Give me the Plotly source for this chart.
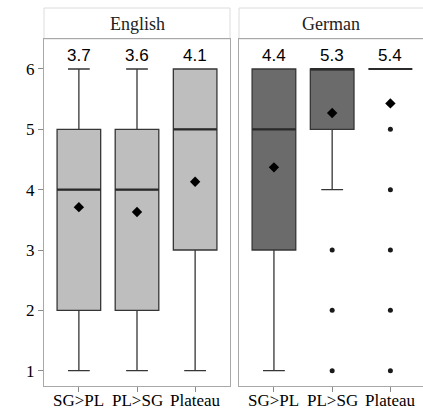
import plotly.graph_objects as go

categories = ["SG>PL", "PL>SG", "Plateau"]
panels = ["English", "German"]

eng_q1 = [2, 2, 3]
eng_median = [4, 4, 5]
eng_q3 = [5, 5, 6]
eng_lower = [1, 1, 1]
eng_upper = [6, 6, 6]
eng_mean = [3.71, 3.63, 4.13]
eng_outliers = [[], [], []]

ger_q1 = [3, 5, 6]
ger_median = [5, 6, 6]
ger_q3 = [6, 6, 6]
ger_lower = [1, 4, 6]
ger_upper = [6, 6, 6]
ger_mean = [4.37, 5.27, 5.43]
ger_outliers = [[], [3, 2, 1], [5, 4, 3, 2, 1]]

W, H = 423, 409
SERIF = "Liberation Serif, Times New Roman, serif"
SANS = "Liberation Sans, Arial, sans-serif"

fig = go.Figure()

data = [
    (eng_q1, eng_median, eng_q3, eng_lower, eng_upper, eng_mean, eng_outliers, "#bebebe", "x", "y"),
    (ger_q1, ger_median, ger_q3, ger_lower, ger_upper, ger_mean, ger_outliers, "#6b6b6b", "x2", "y2"),
]

BOXW = 0.75
for (q1, med, q3, lo, up, mean, outl, fill, xa, ya) in data:
    fig.add_trace(go.Box(
        x=categories, q1=q1, median=med, q3=q3, lowerfence=lo, upperfence=up,
        fillcolor=fill, line=dict(color="#363636", width=1.3),
        width=BOXW, whiskerwidth=0.5, boxpoints=False,
        xaxis=xa, yaxis=ya, showlegend=False, hoverinfo="skip",
    ))
    # thicker median lines
    for i, m in enumerate(med):
        fig.add_shape(type="line", xref=xa, yref=ya,
                      x0=i - BOXW / 2, x1=i + BOXW / 2, y0=m, y1=m,
                      line=dict(color="#2a2a2a", width=2.2))
    # outliers
    ox, oy = [], []
    for c, vals in zip(categories, outl):
        for v in vals:
            ox.append(c)
            oy.append(v)
    if ox:
        fig.add_trace(go.Scatter(x=ox, y=oy, mode="markers", xaxis=xa, yaxis=ya,
                                 marker=dict(color="#1a1a1a", size=5), showlegend=False,
                                 hoverinfo="skip"))
    # means
    fig.add_trace(go.Scatter(x=categories, y=mean, mode="markers", xaxis=xa, yaxis=ya,
                             marker=dict(color="black", size=8, symbol="diamond"),
                             showlegend=False, hoverinfo="skip"))
    for c, m in zip(categories, mean):
        fig.add_annotation(x=c, y=6.22, xref=xa, yref=ya, text=f"{m:.1f}",
                           xanchor="center", yanchor="middle",
                           showarrow=False, font=dict(family=SANS, size=17, color="black"))
    # x category labels
    for c in categories:
        fig.add_annotation(x=c, y=(H - 400) / H, xref=xa, yref="paper", text=c,
                           xanchor="center", yanchor="middle", showarrow=False,
                           font=dict(family=SERIF, size=17, color="black"))

x1d = [44 / W, 230 / W]
x2d = [239 / W, 1.0]
yd = [(H - 386) / H, (H - 39) / H]
strip_top = (H - 8) / H
YR = [0.746, 6.497]

axis_common = dict(showgrid=False, zeroline=False, showline=True,
                   linecolor="#a8a8a8", linewidth=1, ticklen=5,
                   tickcolor="#8a8a8a", tickfont=dict(family=SERIF, size=17, color="black"),
                   automargin=False)

fig.update_layout(
    width=W, height=H, margin=dict(l=0, r=0, t=0, b=0),
    paper_bgcolor="white", plot_bgcolor="white",
    xaxis=dict(domain=x1d, type="category", range=[-0.6, 2.6], anchor="y", mirror=True,
               ticks="outside", showticklabels=False, **axis_common),
    xaxis2=dict(domain=x2d, type="category", range=[-0.6, 2.56], anchor="y2", mirror=True,
                ticks="outside", showticklabels=False, **axis_common),
    yaxis=dict(domain=yd, range=YR, tickvals=[1, 2, 3, 4, 5, 6], anchor="x", mirror=True,
               ticks="outside", **axis_common),
    yaxis2=dict(domain=yd, range=YR, tickvals=[1, 2, 3, 4, 5, 6], mirror=False,
                showticklabels=False, anchor="x2", ticks="", **axis_common),
)

for name, xd in zip(panels, [x1d, x2d]):
    x1 = xd[1] if xd[1] < 1 else 1.01
    fig.add_shape(type="rect", xref="paper", yref="paper",
                  x0=xd[0], x1=x1, y0=yd[1], y1=strip_top,
                  line=dict(color="#dcdcdc", width=1), fillcolor="white", layer="below")
    fig.add_annotation(x=(xd[0] + xd[1]) / 2, y=(yd[1] + strip_top) / 2, xref="paper", yref="paper",
                       text=name, showarrow=False, xanchor="center", yanchor="middle",
                       font=dict(family=SERIF, size=18, color="#222222"))

fig.write_html("out.html", config={"displayModeBar": False},
               post_script="document.body.style.margin='0';document.body.style.overflow='hidden';")
